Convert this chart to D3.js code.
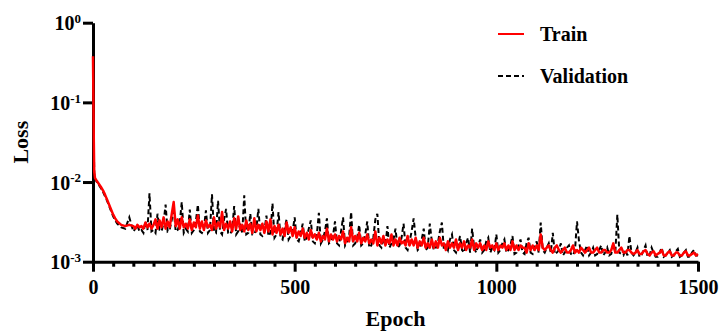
<!DOCTYPE html>
<html>
<head>
<meta charset="utf-8">
<script src="https://cdn.jsdelivr.net/npm/d3@7"></script>
<style>
    body { margin: 0; background: #fff; }
    svg text { font-family: "Liberation Serif", "Times New Roman", serif; font-weight: bold; fill: #000; }
</style>
</head>
<body>
<div id="chart"></div>
<script>
// loss values, in units of 1e-3
const lossUnit = 1e-3;

const epochs = [
    0, 1, 2, 3, 5, 10, 15, 20, 25, 30, 35, 40, 45, 50, 55, 60, 70, 80, 90,
    100, 105, 110, 115, 120, 125, 130, 135, 140, 145, 150, 155, 160, 165, 170, 175, 180, 185, 190, 195,
    200, 205, 210, 215, 220, 225, 230, 235, 240, 245, 250, 255, 260, 265, 270, 275, 280, 285, 290, 295,
    300, 305, 310, 315, 320, 325, 330, 335, 340, 345, 350, 355, 360, 365, 370, 375, 380, 385, 390, 395,
    400, 405, 410, 415, 420, 425, 430, 435, 440, 445, 450, 455, 460, 465, 470, 475, 480, 485, 490, 495,
    500, 505, 510, 515, 520, 525, 530, 535, 540, 545, 550, 555, 560, 565, 570, 575, 580, 585, 590, 595,
    600, 605, 610, 615, 620, 625, 630, 635, 640, 645, 650, 655, 660, 665, 670, 675, 680, 685, 690, 695,
    700, 705, 710, 715, 720, 725, 730, 735, 740, 745, 750, 755, 760, 765, 770, 775, 780, 785, 790, 795,
    800, 805, 810, 815, 820, 825, 830, 835, 840, 845, 850, 855, 860, 865, 870, 875, 880, 885, 890, 895,
    900, 905, 910, 915, 920, 925, 930, 935, 940, 945, 950, 955, 960, 965, 970, 975, 980, 985, 990, 995,
    1000, 1005, 1010, 1015, 1020, 1025, 1030, 1035, 1040, 1045, 1050, 1055, 1060, 1065, 1070, 1075, 1080, 1085, 1090, 1095,
    1100, 1105, 1110, 1115, 1120, 1125, 1130, 1135, 1140, 1145, 1150, 1155, 1160, 1165, 1170, 1175, 1180, 1185, 1190, 1195,
    1200, 1205, 1210, 1215, 1220, 1225, 1230, 1235, 1240, 1245, 1250, 1255, 1260, 1265, 1270, 1275, 1280, 1285, 1290, 1295,
    1300, 1305, 1310, 1315, 1320, 1325, 1330, 1335, 1340, 1345, 1350, 1355, 1360, 1365, 1370, 1375, 1380, 1385, 1390, 1395,
    1400, 1405, 1410, 1415, 1420, 1425, 1430, 1435, 1440, 1445, 1450, 1455, 1460, 1465, 1470, 1475, 1480, 1485, 1490, 1495,
    1500
];

const trainLoss = [
    380, 120, 32, 13.5, 11.2, 10.2, 9.4, 8.6, 7.8, 6.9, 6.0, 5.2, 4.5, 3.9, 3.5, 3.2, 2.9, 2.8, 2.9,
    2.8, 2.6, 2.9, 2.7, 2.8, 2.6, 3.1, 2.7, 3.0, 2.6, 2.9, 3.4, 2.6, 3.3, 2.7, 3.6, 2.6, 3.2, 2.7, 3.9,
    5.6, 2.8, 3.4, 2.6, 3.6, 2.7, 3.0, 2.6, 3.4, 2.5, 3.1, 2.7, 3.8, 2.6, 3.2, 2.5, 3.3, 2.7, 2.9, 2.5,
    3.6, 2.6, 3.1, 2.7, 4.2, 2.5, 3.0, 2.6, 3.2, 2.4, 3.5, 2.6, 3.7, 2.5, 2.9, 2.4, 3.3, 2.5, 3.0, 2.3,
    3.5, 2.4, 2.9, 2.5, 3.0, 2.3, 3.2, 2.4, 3.4, 2.2, 2.8, 2.3, 2.9, 2.2, 2.6, 2.1, 3.1, 2.3, 2.7, 2.1,
    2.7, 2.0, 2.4, 2.1, 2.6, 2.0, 2.3, 1.9, 2.5, 2.0, 2.2, 1.9, 2.3, 1.8, 2.1, 1.9, 2.6, 1.8, 2.2, 1.9,
    2.2, 1.8, 2.1, 1.9, 2.4, 1.7, 2.0, 1.8, 2.7, 1.8, 2.1, 1.8, 2.3, 1.7, 2.0, 1.8, 2.2, 1.7, 1.9, 1.7,
    2.4, 1.6, 2.0, 1.7, 2.1, 1.6, 1.9, 1.7, 2.2, 1.6, 1.9, 1.6, 2.0, 1.7, 1.8, 1.6, 2.1, 1.6, 1.9, 1.6,
    2.0, 1.5, 1.8, 1.6, 2.0, 1.5, 1.7, 1.5, 1.9, 1.5, 1.8, 1.5, 2.0, 1.6, 1.7, 1.4, 1.8, 1.5, 1.7, 1.5,
    1.9, 1.4, 1.7, 1.5, 1.8, 1.4, 1.6, 1.5, 1.9, 1.4, 1.7, 1.5, 1.7, 1.4, 1.6, 1.4, 1.8, 1.5, 1.6, 1.4,
    1.7, 1.4, 1.6, 1.5, 1.7, 1.4, 1.6, 1.4, 1.8, 1.4, 1.6, 1.4, 1.6, 1.5, 1.5, 1.3, 1.7, 1.4, 1.6, 1.4,
    1.6, 1.4, 2.2, 1.5, 1.4, 1.5, 1.6, 1.4, 1.3, 1.5, 1.6, 1.4, 1.3, 1.4, 1.5, 1.3, 1.3, 1.4, 1.6, 1.3,
    1.4, 1.3, 1.5, 1.4, 1.3, 1.4, 1.5, 1.3, 1.3, 1.4, 1.5, 1.3, 1.3, 1.4, 1.4, 1.3, 1.3, 1.4, 1.7, 1.3,
    1.3, 1.4, 1.5, 1.3, 1.3, 1.4, 1.4, 1.3, 1.25, 1.3, 1.4, 1.25, 1.25, 1.35, 1.4, 1.25, 1.2, 1.3, 1.35, 1.2,
    1.25, 1.3, 1.4, 1.2, 1.2, 1.3, 1.35, 1.2, 1.2, 1.3, 1.3, 1.2, 1.2, 1.3, 1.35, 1.2, 1.2, 1.25, 1.3, 1.2,
    1.25
];

const validationLoss = [
    360, 110, 30, 13, 11, 9.9, 9.1, 8.3, 7.5, 6.6, 5.8, 5.0, 4.3, 3.7, 3.3, 3.0, 2.7, 2.6, 3.6,
    2.4, 2.6, 2.9, 2.4, 2.5, 2.3, 3.2, 2.5, 7.2, 2.4, 2.5, 2.3, 4.0, 2.5, 2.4, 3.1, 5.2, 2.4, 2.5, 3.3,
    4.8, 2.4, 2.5, 3.0, 5.6, 2.3, 2.6, 2.4, 4.5, 2.3, 2.5, 3.2, 5.2, 2.4, 2.3, 2.6, 4.4, 2.3, 2.5, 7.0,
    2.4, 2.3, 5.8, 2.4, 2.2, 3.4, 4.6, 2.3, 2.2, 2.5, 5.0, 2.2, 2.4, 3.0, 2.3, 6.8, 2.2, 2.3, 4.0, 2.2,
    2.2, 2.6, 4.6, 2.2, 2.1, 2.4, 3.8, 2.1, 2.3, 5.4, 2.0, 2.2, 4.2, 2.0, 1.9, 2.6, 3.4, 1.9, 2.1, 2.4,
    3.6, 1.9, 1.8, 2.3, 3.0, 1.8, 2.0, 2.6, 3.3, 1.8, 1.7, 2.2, 4.1, 1.7, 1.9, 2.4, 3.5, 1.7, 1.8, 2.1,
    3.2, 1.7, 1.6, 2.4, 3.6, 1.6, 1.8, 2.1, 4.2, 1.6, 1.7, 2.0, 2.9, 1.6, 1.7, 2.2, 3.2, 1.5, 1.6, 2.0,
    3.4, 4.0, 1.6, 1.5, 2.0, 1.6, 2.8, 1.5, 1.7, 1.9, 2.6, 1.5, 1.6, 2.0, 3.0, 1.5, 1.4, 1.8, 2.4, 3.5,
    2.0, 1.4, 1.5, 1.9, 2.6, 1.4, 1.5, 3.0, 1.8, 1.4, 1.5, 1.7, 2.4, 3.1, 1.4, 1.6, 1.4, 1.9, 2.2, 1.4,
    1.3, 1.6, 2.1, 1.4, 1.3, 1.7, 2.0, 1.3, 2.6, 1.5, 1.3, 1.6, 1.9, 1.3, 1.4, 1.8, 2.0, 1.3, 1.5, 1.4,
    2.2, 1.3, 1.4, 1.7, 1.9, 1.3, 1.4, 1.6, 2.1, 1.25, 1.3, 1.6, 1.9, 1.3, 1.25, 1.7, 2.0, 1.3, 1.25, 1.5,
    1.8, 1.3, 3.1, 1.4, 1.3, 1.5, 1.7, 1.3, 2.3, 1.25, 1.3, 1.4, 1.7, 1.2, 1.3, 1.5, 1.6, 1.25, 1.2, 1.4,
    3.2, 1.8, 1.3, 1.2, 1.4, 1.6, 1.2, 1.3, 1.5, 1.2, 1.25, 1.4, 1.6, 1.2, 1.3, 1.5, 1.2, 1.25, 1.7, 1.3,
    3.9, 1.3, 1.25, 1.2, 1.4, 1.2, 2.1, 1.3, 1.2, 1.3, 1.5, 1.15, 1.2, 1.4, 1.6, 1.15, 1.2, 1.5, 1.3, 1.15,
    1.15, 1.3, 1.5, 1.15, 1.2, 1.3, 1.4, 1.15, 1.2, 1.35, 1.45, 1.15, 1.2, 1.3, 1.4, 1.15, 1.15, 1.3, 1.4, 1.2,
    1.2
];

const xMajorTicks = [0, 500, 1000, 1500];
const xMinorTicks = [50, 100, 150, 200, 250, 300, 350, 400, 450,
    550, 600, 650, 700, 750, 800, 850, 900, 950,
    1050, 1100, 1150, 1200, 1250, 1300, 1350, 1400, 1450];
const yTicks = [1e-3, 1e-2, 1e-1, 1];
const yTickExp = ["-3", "-2", "-1", "0"];

const width = 721, height = 331;
const margin = { top: 22.7, right: 23, bottom: 69.3, left: 93 };
const serif = '"Liberation Serif", "Times New Roman", serif';

const svg = d3.select("#chart")
    .append("svg")
    .attr("width", width)
    .attr("height", height)
    .attr("font-family", serif);

const x = d3.scaleLinear()
    .domain([0, 1500])
    .range([margin.left, width - margin.right]);

const y = d3.scaleLog()
    .domain([1e-3, 1])
    .range([height - margin.bottom, margin.top]);

// x axis: major ticks with labels, minor ticks without
const xAxis = svg.append("g")
    .attr("transform", `translate(0,${height - margin.bottom})`)
    .call(d3.axisBottom(x).tickValues(xMajorTicks).tickSize(10).tickSizeOuter(0).tickFormat(d3.format("d")));

svg.append("g")
    .attr("transform", `translate(0,${height - margin.bottom})`)
    .call(d3.axisBottom(x).tickValues(xMinorTicks).tickSize(5).tickSizeOuter(0).tickFormat(""))
    .select(".domain").remove();

xAxis.selectAll("text")
    .attr("y", 18)
    .attr("dy", "0.71em")
    .style("font-size", "20px");

// y axis with 10^n labels
const yAxis = svg.append("g")
    .attr("transform", `translate(${margin.left},0)`)
    .call(d3.axisLeft(y).tickValues(yTicks).tickSize(10).tickSizeOuter(0).tickFormat(""));

yAxis.selectAll(".tick").append("text")
    .attr("x", -12)
    .attr("dy", "0.35em")
    .attr("text-anchor", "end")
    .style("font-size", "20px")
    .each(function (d, i) {
        const t = d3.select(this);
        t.append("tspan").text("10");
        t.append("tspan")
            .attr("dy", "-0.55em")
            .style("font-size", "13px")
            .text(yTickExp[i]);
    });

svg.selectAll("g").attr("font-family", serif);

svg.selectAll(".domain, .tick line")
    .attr("stroke", "#000")
    .attr("stroke-width", 3);

// curves drawn over the axes, validation underneath train
const line = d3.line()
    .x((d, i) => x(epochs[i]))
    .y(d => y(d * lossUnit));

svg.append("path")
    .datum(validationLoss)
    .attr("fill", "none")
    .attr("stroke", "#000")
    .attr("stroke-width", 2)
    .attr("stroke-dasharray", "5,3")
    .attr("d", line);

svg.append("path")
    .datum(trainLoss)
    .attr("fill", "none")
    .attr("stroke", "#ff0000")
    .attr("stroke-width", 2.5)
    .attr("stroke-linejoin", "round")
    .attr("d", line);

// axis titles
svg.append("text")
    .attr("x", (margin.left + width - margin.right) / 2)
    .attr("y", 326)
    .attr("text-anchor", "middle")
    .style("font-size", "22px")
    .text("Epoch");

svg.append("text")
    .attr("transform", `translate(28,${(margin.top + height - margin.bottom) / 2}) rotate(-90)`)
    .attr("text-anchor", "middle")
    .style("font-size", "22px")
    .text("Loss");

// legend
const legendItems = [
    { label: "Train", color: "#ff0000", dash: null, yPos: 34 },
    { label: "Validation", color: "#000", dash: "5,3", yPos: 76 }
];

const legend = svg.append("g");
legendItems.forEach(item => {
    legend.append("line")
        .attr("x1", 498).attr("x2", 524)
        .attr("y1", item.yPos).attr("y2", item.yPos)
        .attr("stroke", item.color)
        .attr("stroke-width", 2)
        .attr("stroke-dasharray", item.dash);
    legend.append("text")
        .attr("x", 540)
        .attr("y", item.yPos + 7)
        .style("font-size", "20px")
        .text(item.label);
});
</script>
</body>
</html>
